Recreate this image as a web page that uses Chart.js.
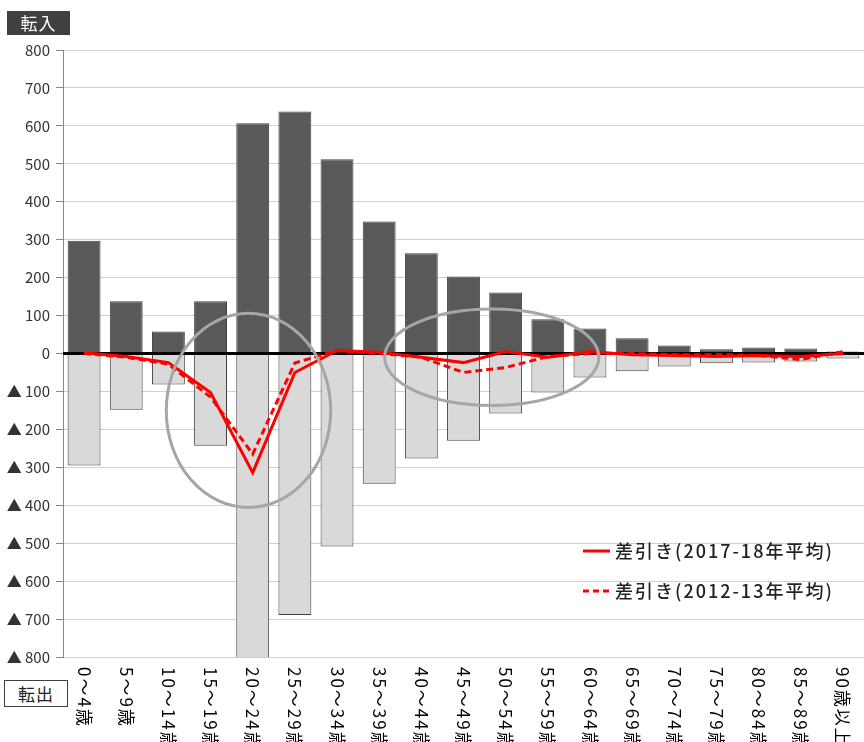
<!DOCTYPE html>
<html lang="ja">
<head>
<meta charset="UTF-8">
<title>年齢別 転入・転出</title>
<script src="https://cdn.jsdelivr.net/npm/chart.js"></script>
<style>
    body { margin: 0; background: #fff; }
    #wrap { position: relative; width: 864px; height: 742px; }
    .tag-in {
        position: absolute; left: 7px; top: 11px; width: 63px; height: 24px;
        background: #404040; color: #fff; font: 17px 'Noto Sans CJK JP', sans-serif;
        text-align: center; line-height: 24px; letter-spacing: 1px;
    }
    .tag-out {
        position: absolute; left: 4px; top: 680px; width: 62px; height: 25px;
        border: 1px solid #404040; background: #fff; color: #222;
        font: 17px 'Noto Sans CJK JP', sans-serif; text-align: center; line-height: 25px; letter-spacing: 1px;
    }
</style>
</head>
<body>
<div id="wrap">
    <canvas id="chart" width="864" height="742"></canvas>
    <div class="tag-in">転入</div>
    <div class="tag-out">転出</div>
</div>
<script>
// 年齢区分
const ageGroups = ['0～4歳', '5～9歳', '10～14歳', '15～19歳', '20～24歳', '25～29歳', '30～34歳',
    '35～39歳', '40～44歳', '45～49歳', '50～54歳', '55～59歳', '60～64歳', '65～69歳',
    '70～74歳', '75～79歳', '80～84歳', '85～89歳', '90歳以上'];
const tenNyu = [297, 138, 58, 138, 607, 638, 512, 348, 264, 203, 161, 90, 66, 40, 21, 11, 16, 13, 5];
const tenShutsu = [-295, -148, -82, -243, -900, -689, -509, -343, -277, -230, -158, -103, -63, -47, -34, -26, -24, -21, -13];
const sabiki1718 = [2, -8, -24, -103, -314, -50, 8, 3, -10, -24, 5, -10, 5, -3, -5, -8, -5, -8, 0];
const sabiki1213 = [0, -10, -28, -115, -265, -25, 8, 0, -10, -50, -37, -8, 0, 0, -3, -3, -5, -16, 5];
const yTicks = [800, 700, 600, 500, 400, 300, 200, 100, 0, -100, -200, -300, -400, -500, -600, -700, -800];
const legendNames = ['差引き(2017-18年平均)', '差引き(2012-13年平均)'];

const FONT = "'Noto Sans CJK JP', sans-serif";

// 囲み楕円 (カテゴリ位置と値で指定)
const ellipses = [
    { cx: 3.9, cy: -150, rx: 1.95, ry: 256 },
    { cx: 9.67, cy: -10, rx: 2.54, ry: 127 }
];

let zeroDrawn = false;
const extras = {
    id: 'extras',
    beforeDatasetsDraw() { zeroDrawn = false; },
    beforeDatasetDraw(chart, args) {
        if (zeroDrawn || args.meta.type !== 'line') return;
        zeroDrawn = true;
        const { ctx, chartArea, scales } = chart;
        const y0 = scales.y.getPixelForValue(0);
        ctx.save();
        ctx.strokeStyle = '#000';
        ctx.lineWidth = 3;
        ctx.beginPath();
        ctx.moveTo(chartArea.left, y0);
        ctx.lineTo(chartArea.right, y0);
        ctx.stroke();
        ctx.restore();
    },
    afterDatasetsDraw(chart) {
        const { ctx, scales, chartArea } = chart;
        const x = scales.x, y = scales.y;
        const step = x.getPixelForValue(1) - x.getPixelForValue(0);
        ctx.save();
        // ellipses
        ctx.strokeStyle = '#a6a6a6';
        ctx.lineWidth = 3;
        ellipses.forEach(e => {
            const px = x.getPixelForValue(0) + e.cx * step;
            const py = y.getPixelForValue(e.cy);
            const rx = e.rx * step;
            const ry = Math.abs(y.getPixelForValue(0) - y.getPixelForValue(e.ry));
            ctx.beginPath();
            ctx.ellipse(px, py, rx, ry, 0, 0, Math.PI * 2);
            ctx.stroke();
        });
        // legend
        const lx = 583, ly = [551, 591];
        ctx.font = '500 18px ' + FONT;
        ctx.letterSpacing = '2px';
        ctx.fillStyle = '#222';
        ctx.textBaseline = 'middle';
        legendNames.forEach((name, i) => {
            ctx.strokeStyle = '#ff0000';
            ctx.lineWidth = 3;
            ctx.setLineDash(i === 0 ? [] : [6, 4]);
            ctx.beginPath();
            ctx.moveTo(lx, ly[i]);
            ctx.lineTo(lx + 27, ly[i]);
            ctx.stroke();
            ctx.setLineDash([]);
            ctx.fillText(name, lx + 32, ly[i]);
        });
        // vertical category labels
        ctx.font = '17px ' + FONT;
        ctx.fillStyle = '#000';
        ctx.textBaseline = 'middle';
        ctx.textAlign = 'left';
        ctx.letterSpacing = '2px';
        ageGroups.forEach((lab, i) => {
            ctx.save();
            ctx.translate(x.getPixelForValue(i), chartArea.bottom + 10);
            ctx.rotate(Math.PI / 2);
            ctx.fillText(lab, 0, 0);
            ctx.restore();
        });
        ctx.restore();
    }
};

new Chart(document.getElementById('chart'), {
    data: {
        labels: ageGroups,
        datasets: [
            { type: 'line', label: legendNames[0], data: sabiki1718, borderColor: '#ff0000', borderWidth: 3,
              pointRadius: 0, tension: 0, order: 0 },
            { type: 'line', label: legendNames[1], data: sabiki1213, borderColor: '#ff0000', borderWidth: 3,
              borderDash: [7, 4], pointRadius: 0, tension: 0, order: 0 },
            { type: 'bar', label: '転入', data: tenNyu, backgroundColor: '#595959', borderColor: '#404040',
              borderWidth: 1, grouped: false, barPercentage: 0.78, categoryPercentage: 1, order: 1 },
            { type: 'bar', label: '転出', data: tenShutsu, backgroundColor: '#d9d9d9', borderColor: '#404040',
              borderWidth: 1, grouped: false, barPercentage: 0.78, categoryPercentage: 1, order: 1 }
        ]
    },
    options: {
        responsive: false,
        animation: false,
        layout: { padding: { top: 50, left: 0, right: 0, bottom: 0 } },
        plugins: { legend: { display: false }, tooltip: { enabled: false } },
        scales: {
            x: {
                grid: { display: false },
                border: { display: false },
                ticks: { display: false },
                afterFit(s) { s.height = 85; }
            },
            y: {
                min: -800, max: 800,
                afterBuildTicks(s) { s.ticks = yTicks.map(v => ({ value: v })); },
                afterFit(s) { s.width = 63; },
                grid: { color: '#d0d0d0', lineWidth: 1, tickLength: 7, tickColor: '#888' },
                border: { display: true, color: '#888', width: 1 },
                ticks: {
                    color: '#333',
                    padding: 6,
                    font: { family: FONT, size: 15 },
                    callback: v => v < 0 ? '▲ ' + (-v) : String(v)
                }
            }
        }
    },
    plugins: [extras]
});
</script>
</body>
</html>
